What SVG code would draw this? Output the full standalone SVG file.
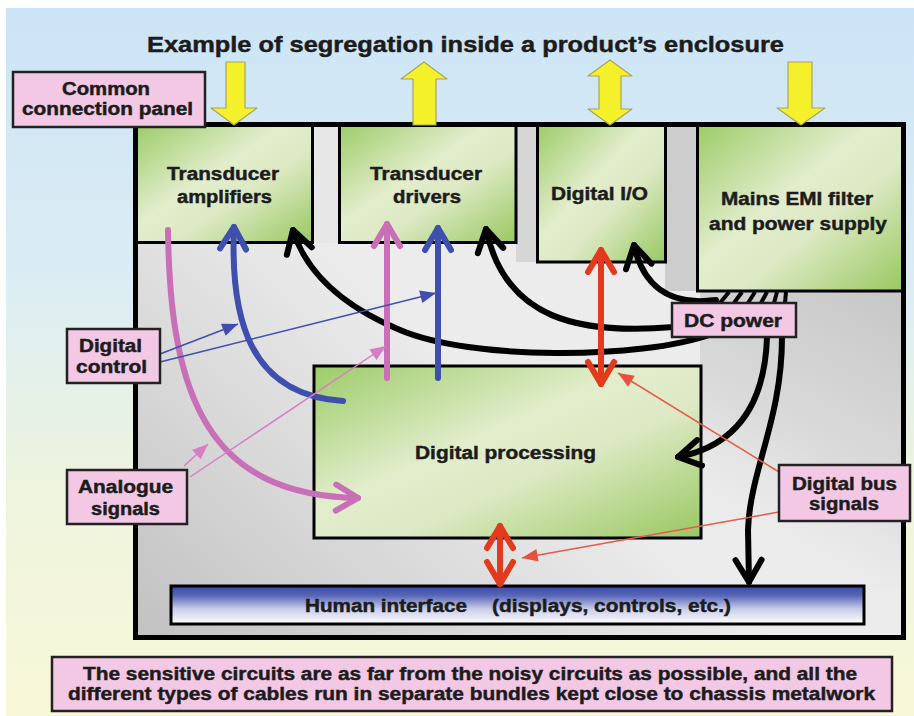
<svg xmlns="http://www.w3.org/2000/svg" width="914" height="716" viewBox="0 0 914 716">
  <defs>
    <linearGradient id="bg" x1="0" y1="0" x2="0" y2="1">
      <stop offset="0" stop-color="#cce4f6"/>
      <stop offset="0.4" stop-color="#dcedf3"/>
      <stop offset="0.68" stop-color="#eef4de"/>
      <stop offset="1" stop-color="#f8f8d8"/>
    </linearGradient>
    <linearGradient id="interior" gradientUnits="userSpaceOnUse" x1="150" y1="640" x2="430" y2="330">
      <stop offset="0" stop-color="#c2c2c2"/>
      <stop offset="0.45" stop-color="#d6d6d6"/>
      <stop offset="1" stop-color="#ececec"/>
    </linearGradient>
    <linearGradient id="rightShade" gradientUnits="userSpaceOnUse" x1="900" y1="300" x2="760" y2="560">
      <stop offset="0" stop-color="#c8c8c8"/>
      <stop offset="0.6" stop-color="#dcdcdc"/>
      <stop offset="1" stop-color="#ececec" stop-opacity="0"/>
    </linearGradient>
    <linearGradient id="green" x1="0" y1="0" x2="1" y2="1">
      <stop offset="0" stop-color="#9ccc68"/>
      <stop offset="0.42" stop-color="#e2edcc"/>
      <stop offset="0.6" stop-color="#dde9c4"/>
      <stop offset="1" stop-color="#98c860"/>
    </linearGradient>
    <linearGradient id="hiBar" x1="0" y1="0" x2="0" y2="1">
      <stop offset="0" stop-color="#3848a8"/>
      <stop offset="0.25" stop-color="#5866b8"/>
      <stop offset="0.6" stop-color="#c8cce8"/>
      <stop offset="1" stop-color="#ffffff"/>
    </linearGradient>

    <marker id="chevK" markerUnits="userSpaceOnUse" markerWidth="60" markerHeight="60" refX="0" refY="0" viewBox="-30 -30 60 60" orient="auto" overflow="visible">
      <path d="M -22 -13 L 0 0 L -22 13" fill="none" stroke="#000" stroke-width="6" stroke-linecap="round" stroke-linejoin="round"/>
    </marker>
    <marker id="chevP" markerUnits="userSpaceOnUse" markerWidth="60" markerHeight="60" refX="0" refY="0" viewBox="-30 -30 60 60" orient="auto" overflow="visible">
      <path d="M -22 -13 L 0 0 L -22 13" fill="none" stroke="#c86fb8" stroke-width="6" stroke-linecap="round" stroke-linejoin="round"/>
    </marker>
    <marker id="chevB" markerUnits="userSpaceOnUse" markerWidth="60" markerHeight="60" refX="0" refY="0" viewBox="-30 -30 60 60" orient="auto" overflow="visible">
      <path d="M -22 -13 L 0 0 L -22 13" fill="none" stroke="#3f4fae" stroke-width="6" stroke-linecap="round" stroke-linejoin="round"/>
    </marker>
    <marker id="chevR" markerUnits="userSpaceOnUse" markerWidth="60" markerHeight="60" refX="0" refY="0" viewBox="-30 -30 60 60" orient="auto-start-reverse" overflow="visible">
      <path d="M -22 -13 L 0 0 L -22 13" fill="none" stroke="#e33a1e" stroke-width="6" stroke-linecap="round" stroke-linejoin="round"/>
    </marker>
    <marker id="triB" markerUnits="userSpaceOnUse" markerWidth="20" markerHeight="20" refX="0" refY="0" viewBox="-12 -6 14 12" orient="auto" overflow="visible">
      <path d="M -11 -4.5 L 0 0 L -11 4.5 Z" fill="#3f4fae"/>
    </marker>
    <marker id="triP" markerUnits="userSpaceOnUse" markerWidth="20" markerHeight="20" refX="0" refY="0" viewBox="-12 -6 14 12" orient="auto" overflow="visible">
      <path d="M -11 -4.5 L 0 0 L -11 4.5 Z" fill="#d87cc4"/>
    </marker>
    <marker id="triR" markerUnits="userSpaceOnUse" markerWidth="20" markerHeight="20" refX="0" refY="0" viewBox="-12 -6 14 12" orient="auto" overflow="visible">
      <path d="M -11 -4.5 L 0 0 L -11 4.5 Z" fill="#e85040"/>
    </marker>

    <style>
      text { font-family: "Liberation Sans", Arial, sans-serif; font-weight: bold; fill: #1c1c1c; stroke: #1c1c1c; stroke-width: 0.45; }
      .lbl { font-size: 18px; }
      .title { font-size: 22px; }
      .note { font-size: 18px; }
      .box { fill: url(#green); stroke: #000; stroke-width: 3; }
      .tag { fill: #f2c8e4; stroke: #222; stroke-width: 2.5; }
      .yel { fill: #f4f02a; stroke: #a8a460; stroke-width: 1.2; stroke-linejoin: round; }
      .thick { fill: none; stroke-width: 6; stroke-linecap: round; stroke-linejoin: round; }
      .k { stroke: #000; }
      .p { stroke: #c86fb8; }
      .b { stroke: #3f4fae; }
      .r { stroke: #e33a1e; }
      .lead { fill: none; stroke-width: 1.5; }
    </style>
  </defs>

  <!-- page background -->
  <rect x="0" y="0" width="914" height="716" fill="#ffffff"/>
  <rect x="6" y="8" width="908" height="708" fill="url(#bg)"/>

  <!-- title -->
  <text class="title" x="147" y="52" textLength="637" lengthAdjust="spacingAndGlyphs">Example of segregation inside a product’s enclosure</text>

  <!-- enclosure interior -->
  <g id="enclosure">
    <rect x="135.5" y="124.5" width="768" height="513" fill="url(#interior)"/>
    <rect x="700" y="290" width="201" height="300" fill="url(#rightShade)"/>
    <rect x="313" y="127" width="26" height="116" fill="#e6e6e6"/>
    <rect x="516" y="127" width="21" height="135" fill="#d6d6d6"/>
    <rect x="665" y="127" width="32" height="164" fill="#cdcdcd"/>
  </g>

  <!-- top row of circuit blocks -->
  <g id="transducer-amplifiers">
    <rect class="box" x="136.5" y="124.5" width="176" height="118"/>
    <text class="lbl" x="167" y="180" textLength="112" lengthAdjust="spacingAndGlyphs">Transducer</text>
    <text class="lbl" x="177" y="203" textLength="95" lengthAdjust="spacingAndGlyphs">amplifiers</text>
  </g>
  <g id="transducer-drivers">
    <rect class="box" x="339.5" y="124.5" width="176.5" height="118"/>
    <text class="lbl" x="370" y="180" textLength="112" lengthAdjust="spacingAndGlyphs">Transducer</text>
    <text class="lbl" x="393" y="203" textLength="68" lengthAdjust="spacingAndGlyphs">drivers</text>
  </g>
  <g id="digital-io">
    <rect class="box" x="537.5" y="124.5" width="128" height="137.5"/>
    <text class="lbl" x="551" y="200" textLength="97" lengthAdjust="spacingAndGlyphs">Digital I/O</text>
  </g>
  <g id="mains-psu">
    <rect class="box" x="697.5" y="124.5" width="206" height="166.5"/>
    <text class="lbl" x="721" y="205" textLength="152" lengthAdjust="spacingAndGlyphs">Mains EMI filter</text>
    <text class="lbl" x="709" y="230" textLength="178" lengthAdjust="spacingAndGlyphs">and power supply</text>
  </g>

  <!-- central block -->
  <g id="digital-processing">
    <rect class="box" x="314" y="366" width="387" height="172"/>
    <text class="lbl" x="415" y="459" textLength="181" lengthAdjust="spacingAndGlyphs">Digital processing</text>
  </g>

  <!-- human interface strip -->
  <g id="human-interface">
    <rect x="171" y="586" width="693" height="38" fill="url(#hiBar)" stroke="#000" stroke-width="3"/>
    <text class="lbl" x="305" y="612" textLength="162" lengthAdjust="spacingAndGlyphs">Human interface</text>
    <text class="lbl" x="492" y="612" textLength="239" lengthAdjust="spacingAndGlyphs">(displays, controls, etc.)</text>
  </g>

  <!-- enclosure wall -->
  <rect x="135.5" y="124.5" width="768" height="513" fill="none" stroke="#000" stroke-width="5"/>

  <!-- cables and signal paths -->
  <g id="connectors">
    <!-- DC power bundle leaving the supply -->
    <g stroke="#000" stroke-width="4" stroke-linecap="butt">
      <line x1="720" y1="303" x2="729" y2="292"/>
      <line x1="734" y1="303" x2="742" y2="292"/>
      <line x1="748" y1="303" x2="755" y2="292"/>
      <line x1="761" y1="303" x2="767" y2="292"/>
      <line x1="774" y1="303" x2="777" y2="292"/>
      <line x1="785" y1="303" x2="786" y2="292"/>
    </g>
    <path class="thick k" d="M 712 334 C 640 360, 470 360, 400 330 C 340 305, 305 270, 293 230" marker-end="url(#chevK)"/>
    <path class="thick k" d="M 674 327 C 580 335, 505 320, 486 229" marker-end="url(#chevK)"/>
    <path class="thick k" d="M 716 300 C 680 305, 645 295, 634 245" marker-end="url(#chevK)"/>
    <path class="thick k" d="M 767 337 C 765 400, 740 445, 678 457" marker-end="url(#chevK)"/>
    <path class="thick k" d="M 782 337 C 782 420, 750 470, 748 530 L 749 582" marker-end="url(#chevK)"/>

    <!-- analogue paths -->
    <path class="thick p" stroke-linecap="butt" d="M 168 230 C 170 400, 210 495, 358 498" marker-end="url(#chevP)"/>
    <path class="thick p" stroke-linecap="butt" d="M 387 378 L 387 224" marker-end="url(#chevP)"/>

    <!-- digital control paths -->
    <path class="thick b" stroke-linecap="butt" d="M 343 401 C 250 395, 230 320, 234 227" marker-end="url(#chevB)"/>
    <path class="thick b" stroke-linecap="butt" d="M 438 378 L 438 228" marker-end="url(#chevB)"/>

    <!-- digital buses -->
    <path class="thick r" d="M 601 250 L 601 384" marker-start="url(#chevR)" marker-end="url(#chevR)"/>
    <path class="thick r" d="M 500 526 L 500 584" marker-start="url(#chevR)" marker-end="url(#chevR)"/>

    <!-- label leaders -->
    <path class="lead" stroke="#3f4fae" d="M 160 354 L 238 324" marker-end="url(#triB)"/>
    <path class="lead" stroke="#3f4fae" d="M 160 362 L 436 293" marker-end="url(#triB)"/>
    <path class="lead" stroke="#d87cc4" d="M 184 466 L 208 444" marker-end="url(#triP)"/>
    <path class="lead" stroke="#d87cc4" d="M 190 477 L 386 346" marker-end="url(#triP)"/>
    <path class="lead" stroke="#e85a4a" d="M 779 472 L 618 373" marker-end="url(#triR)"/>
    <path class="lead" stroke="#e85a4a" d="M 779 512 L 522 558" marker-end="url(#triR)"/>
  </g>

  <!-- external connections through the panel -->
  <g id="panel-arrows">
    <polygon class="yel" points="226,62 245,62 245,108 257,108 234,125 211,108 226,108"/>
    <polygon class="yel" points="424,62 447,79 436,79 436,125 413,125 413,79 401,79"/>
    <polygon class="yel" points="610,60 632,76 621,76 621,109 632,109 610,125 588,109 599,109 599,76 588,76"/>
    <polygon class="yel" points="788,62 812,62 812,108 825,108 801,125 777,108 788,108"/>
  </g>

  <!-- callout labels -->
  <g id="common-connection-panel">
    <rect class="tag" x="13" y="72" width="192" height="55" stroke-width="3"/>
    <text class="lbl" x="62" y="95" textLength="88" lengthAdjust="spacingAndGlyphs">Common</text>
    <text class="lbl" x="22" y="115" textLength="171" lengthAdjust="spacingAndGlyphs">connection panel</text>
  </g>
  <g id="digital-control">
    <rect class="tag" x="67" y="329" width="93" height="54"/>
    <text class="lbl" x="79" y="352" textLength="63" lengthAdjust="spacingAndGlyphs">Digital</text>
    <text class="lbl" x="76" y="373" textLength="71" lengthAdjust="spacingAndGlyphs">control</text>
  </g>
  <g id="analogue-signals">
    <rect class="tag" x="67" y="470" width="120" height="54"/>
    <text class="lbl" x="78" y="493" textLength="95" lengthAdjust="spacingAndGlyphs">Analogue</text>
    <text class="lbl" x="91" y="515" textLength="69" lengthAdjust="spacingAndGlyphs">signals</text>
  </g>
  <g id="dc-power">
    <rect class="tag" x="672" y="303" width="124" height="34"/>
    <text class="lbl" x="684" y="327" textLength="98" lengthAdjust="spacingAndGlyphs">DC power</text>
  </g>
  <g id="digital-bus-signals">
    <rect class="tag" x="779" y="465" width="131" height="56"/>
    <text class="lbl" x="792" y="490" textLength="105" lengthAdjust="spacingAndGlyphs">Digital bus</text>
    <text class="lbl" x="809" y="510" textLength="70" lengthAdjust="spacingAndGlyphs">signals</text>
  </g>

  <!-- explanatory note -->
  <g id="note">
    <rect class="tag" x="52" y="657" width="840" height="54"/>
    <text class="note" x="83" y="680" textLength="774" lengthAdjust="spacingAndGlyphs">The sensitive circuits are as far from the noisy circuits as possible, and all the</text>
    <text class="note" x="68" y="700" textLength="807" lengthAdjust="spacingAndGlyphs">different types of cables run in separate bundles kept close to chassis metalwork</text>
  </g>
</svg>
